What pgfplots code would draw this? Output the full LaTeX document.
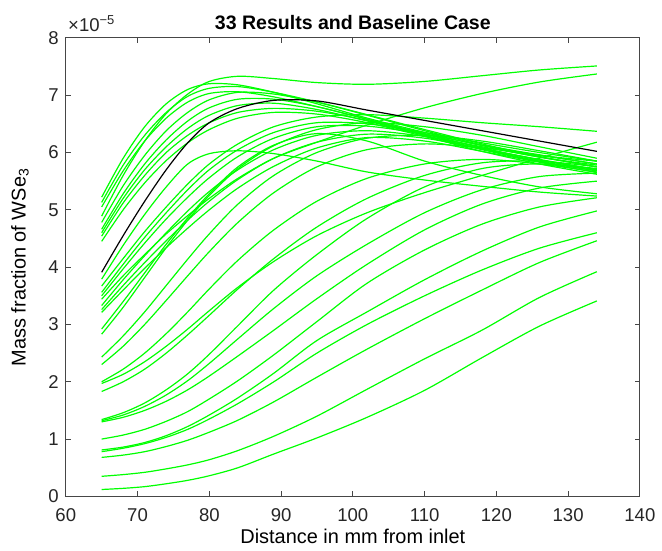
\documentclass[border=0pt]{standalone}
\usepackage{fontspec}
\setmainfont{Liberation Sans}
\usepackage{pgfplots}
\usepackage{pgfplotstable}
\pgfplotsset{compat=1.18}
\definecolor{mlgreen}{RGB}{0,255,0}
\definecolor{mlaxis}{RGB}{70,70,70}
\definecolor{mltext}{RGB}{38,38,38}

% mass fraction (x 1e-5) vs distance; g1..g33 = the 33 runs, b = baseline
\pgfplotstableread{
x g1 g2 g3 g4 g5 g6 g7 g8 g9 g10 g11 g12 g13 g14 g15 g16 g17 g18 g19 g20 g21 g22 g23 g24 g25 g26 g27 g28 g29 g30 g31 g32 g33 b
65 4.89 5.22 5.13 5.05 4.78 4.66 4.60 4.54 4.45 3.79 3.67 3.56 3.50 3.44 3.33 3.26 3.21 2.92 2.83 2.43 2.30 2.00 1.97 1.83 1.34 1.32 1.30 1.00 0.81 0.78 0.68 0.35 0.12 3.91
68 5.60 5.90 5.78 5.68 5.42 5.28 5.20 5.12 5.00 4.38 4.15 4.05 3.97 3.85 3.78 3.68 3.60 3.40 3.30 2.80 2.62 2.22 2.13 2.00 1.46 1.42 1.38 1.07 0.86 0.84 0.72 0.38 0.14 4.55
71 6.20 6.45 6.30 6.20 5.95 5.80 5.70 5.60 5.47 4.92 4.62 4.52 4.42 4.22 4.20 4.08 3.98 3.90 3.82 3.22 3.00 2.50 2.35 2.22 1.63 1.57 1.50 1.17 0.94 0.92 0.78 0.42 0.17 5.15
74 6.68 6.85 6.70 6.60 6.38 6.22 6.10 6.00 5.86 5.40 5.05 4.95 4.84 4.58 4.60 4.46 4.34 4.40 4.34 3.68 3.42 2.84 2.62 2.50 1.86 1.77 1.66 1.31 1.06 1.03 0.87 0.48 0.22 5.70
77 7.02 7.10 6.98 6.88 6.70 6.55 6.42 6.30 6.17 5.80 5.45 5.35 5.22 4.90 4.98 4.82 4.68 4.86 4.82 4.14 3.85 3.22 2.92 2.82 2.14 2.02 1.86 1.48 1.22 1.17 0.98 0.55 0.28 6.17
80 7.24 7.20 7.12 7.03 6.92 6.78 6.65 6.52 6.40 5.98 5.80 5.70 5.56 5.20 5.32 5.15 5.00 5.28 5.25 4.58 4.27 3.62 3.24 3.16 2.48 2.32 2.10 1.70 1.42 1.35 1.12 0.64 0.36 6.52
84 7.33 7.18 7.15 7.06 7.05 6.93 6.82 6.70 6.60 6.03 6.15 6.05 5.93 5.55 5.70 5.53 5.38 5.75 5.72 5.10 4.78 4.12 3.65 3.62 2.98 2.75 2.45 2.02 1.72 1.62 1.33 0.80 0.50 6.77
89 7.29 7.05 7.05 6.97 7.02 6.93 6.86 6.77 6.70 5.98 6.45 6.35 6.25 5.90 6.05 5.90 5.76 6.13 6.12 5.60 5.30 4.65 4.10 4.15 3.60 3.28 2.90 2.47 2.15 2.00 1.65 1.05 0.74 6.91
95 7.22 6.85 6.88 6.80 6.88 6.80 6.75 6.72 6.67 5.85 6.62 6.52 6.45 6.18 6.30 6.18 6.08 6.33 6.40 6.00 5.75 5.15 4.55 4.70 4.22 3.85 3.45 3.05 2.72 2.50 2.08 1.40 1.02 6.90
102 7.19 6.60 6.65 6.58 6.66 6.58 6.55 6.56 6.52 5.66 6.66 6.50 6.46 6.48 6.38 6.32 6.26 6.20 6.52 6.25 6.05 5.55 4.95 5.20 4.85 4.40 4.05 3.72 3.22 3.00 2.57 1.87 1.38 6.74
110 7.24 6.35 6.38 6.30 6.40 6.33 6.30 6.32 6.28 5.52 6.60 6.35 6.32 6.78 6.28 6.25 6.20 5.85 6.45 6.30 6.15 5.80 5.30 5.60 5.40 4.95 4.65 4.30 3.78 3.50 3.10 2.40 1.85 6.56
118 7.34 6.12 6.13 6.05 6.15 6.08 6.06 6.08 6.02 5.41 6.52 6.17 6.13 7.03 6.10 6.06 6.02 5.60 6.30 6.20 6.08 5.88 5.60 5.82 5.72 5.35 5.10 4.75 4.28 3.95 3.60 2.90 2.42 6.38
126 7.44 5.95 5.92 5.84 5.93 5.87 5.85 5.87 5.80 5.31 6.45 6.00 5.96 7.23 5.92 5.88 5.83 5.40 6.10 6.03 5.95 5.80 5.90 5.85 5.80 5.58 5.38 5.05 4.70 4.33 4.08 3.47 2.97 6.20
134 7.51 5.85 5.78 5.68 5.75 5.70 5.68 5.70 5.62 5.24 6.37 5.85 5.80 7.37 5.75 5.70 5.65 5.28 5.90 5.85 5.80 5.66 6.18 5.75 5.72 5.64 5.50 5.21 4.98 4.60 4.46 3.92 3.41 6.02
}\runs

\begin{document}
\begin{tikzpicture}
\begin{axis}[
  scale only axis,
  width=288pt, height=230pt,
  xmin=60, xmax=140, ymin=0, ymax=8,
  xtick={60,70,...,140}, ytick={0,1,...,8},
  tick align=inside, major tick length=2.5pt,
  axis line style={draw=mlaxis, line width=0.5pt},
  every tick/.style={draw=mlaxis, line width=0.5pt},
  tick label style={font=\fontsize{9.3}{10}\selectfont, text=mltext},
  xticklabel style={yshift=-2.5pt},
  /pgf/number format/assume math mode=true,
  xlabel={Distance in mm from inlet},
  ylabel={Mass fraction of WSe\textsubscript{3}},
  label style={font=\fontsize{9.5}{11}\selectfont, text=mltext},
  every axis x label/.style={at={(axis description cs:0.5,0)}, yshift=-20pt, anchor=center},
  every axis y label/.style={at={(axis description cs:0,0.5)}, xshift=-23pt, rotate=90, anchor=center},
  title={33 Results and Baseline Case},
  title style={font=\bfseries\fontsize{9.8}{11}\selectfont, text=black, at={(axis description cs:0.5,1)}, anchor=base, yshift=-2pt},
  clip=false,
]
\pgfplotsinvokeforeach{1,...,33}{
  \addplot[mlgreen, line width=0.6pt, smooth] table[x=x, y=g#1]{\runs};
}
\addplot[black, line width=0.6pt, smooth] table[x=x, y=b]{\runs};
\node[anchor=base west, font=\fontsize{9.3}{10}\selectfont, text=mltext, inner sep=0pt]
  at (axis description cs:0,1) [yshift=3pt, xshift=1pt] {×10\textsuperscript{−5}};
\end{axis}
\path (-33pt,-25pt) rectangle (298pt,249pt);
\end{tikzpicture}
\end{document}
